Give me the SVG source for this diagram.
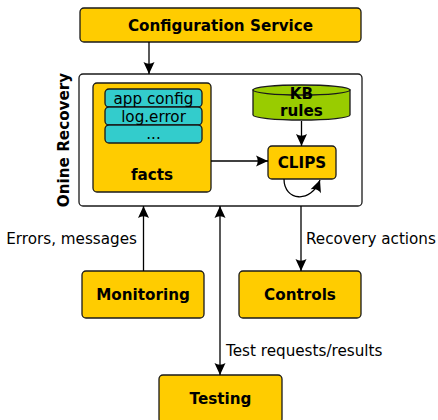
<svg xmlns="http://www.w3.org/2000/svg" width="438" height="420" viewBox="0 0 438 420">
  <style>
    .box { fill: #ffcc00; stroke: #1a1a1a; stroke-width: 1.3; }
    .item { fill: #33cccc; stroke: #1a1a1a; stroke-width: 1.3; }
    .db { fill: #99cc00; stroke: #1a1a1a; stroke-width: 1.3; }
    .frame { fill: #ffffff; stroke: #1a1a1a; stroke-width: 1.3; }
    .title { font-family: "DejaVu Sans", "Liberation Sans", sans-serif; font-weight: bold; font-size: 15.2px; fill: #000; text-anchor: middle; }
    .plain { font-family: "DejaVu Sans", "Liberation Sans", sans-serif; font-size: 15.2px; fill: #000; }
    .mid { text-anchor: middle; }
    .edge { fill: none; stroke: #000; stroke-width: 1.3; marker-end: url(#head); }
  </style>
  <defs>
    <marker id="head" viewBox="-13 -6 14 12" refX="0" refY="0" markerWidth="14" markerHeight="12" markerUnits="userSpaceOnUse" orient="auto-start-reverse">
      <path d="M0,0 L-12,-5.5 Q-8.5,0 -12,5.5 Z" fill="#000"/>
    </marker>
  </defs>

  <!-- Configuration Service -->
  <g id="config-service">
    <rect class="box" x="80" y="8" width="281" height="34" rx="4"/>
    <text class="title" x="220.5" y="30.5">Configuration Service</text>
  </g>

  <!-- Online Recovery container -->
  <g id="online-recovery">
    <rect class="frame" x="79" y="74" width="283" height="132" rx="4"/>
    <text class="title" transform="translate(68.5,140) rotate(-90)">Onine Recovery</text>
  </g>

  <!-- facts store with its entries -->
  <g id="facts">
    <rect class="box" x="93" y="83" width="118" height="109" rx="4"/>
    <rect class="item" x="105" y="89" width="97" height="18" rx="4"/>
    <rect class="item" x="105" y="107" width="97" height="18" rx="4"/>
    <rect class="item" x="105" y="125" width="97" height="18" rx="4"/>
    <text class="plain mid" x="153.5" y="103.5">app config</text>
    <text class="plain mid" x="153.5" y="121.5">log.error</text>
    <text class="plain mid" x="153.5" y="139">...</text>
    <text class="title" x="152" y="180">facts</text>
  </g>

  <!-- KB rules database -->
  <g id="kb-rules">
    <path class="db" d="M253,90 L253,115 A48.5,5 0 0 0 350,115 L350,90 Z"/>
    <ellipse class="db" cx="301.5" cy="90" rx="48.5" ry="5"/>
    <text class="title" x="301.5" y="98.5">KB</text>
    <text class="title" x="301.5" y="116">rules</text>
  </g>

  <!-- CLIPS engine -->
  <g id="clips">
    <rect class="box" x="268" y="146" width="68" height="33" rx="4"/>
    <text class="title" x="302" y="167.5">CLIPS</text>
  </g>

  <!-- External components -->
  <g id="monitoring">
    <rect class="box" x="82" y="271" width="122" height="47" rx="4"/>
    <text class="title" x="143" y="300">Monitoring</text>
  </g>
  <g id="controls">
    <rect class="box" x="239" y="271" width="122" height="47" rx="4"/>
    <text class="title" x="300" y="300">Controls</text>
  </g>
  <g id="testing">
    <rect class="box" x="159" y="375" width="123" height="48" rx="4"/>
    <text class="title" x="220.5" y="403.5">Testing</text>
  </g>

  <!-- Connectors -->
  <g id="connectors">
    <path class="edge" d="M149,42 L149,74"/>
    <path class="edge" d="M301.5,121 L301.5,146"/>
    <path class="edge" d="M211,161 L268,161"/>
    <path class="edge" d="M284,179 C284,201 311,204 320,180"/>
    <path class="edge" d="M143.5,271 L143.5,206"/>
    <path class="edge" d="M301,206 L301,271"/>
    <path class="edge" d="M220,375 L220,206" style="marker-start: url(#head);"/>
    <text class="plain" x="137" y="243.5" text-anchor="end">Errors, messages</text>
    <text class="plain" x="306" y="243.5">Recovery actions</text>
    <text class="plain" x="226" y="355.5">Test requests/results</text>
  </g>
</svg>
